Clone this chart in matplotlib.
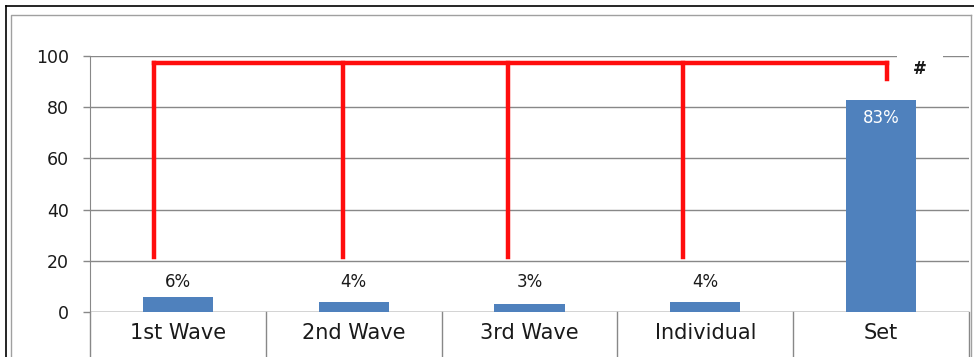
import matplotlib
matplotlib.use("Agg")
import matplotlib.pyplot as plt
from matplotlib.lines import Line2D
import matplotlib.transforms as mtransforms

categories = ["1st Wave", "2nd Wave", "3rd Wave", "Individual", "Set"]
percent = [6, 4, 3, 4, 83]
value_labels = ["6%", "4%", "3%", "4%", "83%"]

# significance bracket (x in category units, y in %)
bracket_x = [-0.136, 0.939, 1.878, 2.873]
bracket_end_x = 4.034
bracket_top = 97.3
bracket_low = 21.5
bracket_end_low = 91
sig_mark = "#"

W, H = 974, 357
fig = plt.figure(figsize=(W / 100, H / 100), dpi=100)
fig.patch.set_facecolor("white")

def fx(px):
    return px / W

def fy(py):
    return 1 - py / H

# frame borders
fig.add_artist(Line2D([fx(6), fx(974)], [fy(6), fy(6)], color="black", lw=1.2))
fig.add_artist(Line2D([fx(6), fx(6)], [fy(6), fy(360)], color="black", lw=1.2))
fig.add_artist(Line2D([fx(11), fx(971), fx(971)], [fy(360), fy(360), fy(15)],
                      color="#a0a0a0", lw=1.0))
fig.add_artist(Line2D([fx(11), fx(11), fx(971)], [fy(360), fy(15), fy(15)],
                      color="#a0a0a0", lw=1.0))

ax = fig.add_axes([fx(90), fy(312), fx(969) - fx(90), fy(56) - fy(312)])
grid_col = "#888888"

x = list(range(len(categories)))
ax.bar(x, percent, width=0.4, color="#4f81bd", zorder=2)

ax.set_xlim(-0.5, len(categories) - 0.5)
ax.set_ylim(0, 100)
ax.set_yticks([0, 20, 40, 60, 80, 100])
ax.yaxis.grid(True, color=grid_col, lw=1.0, zorder=0)
ax.set_axisbelow(True)
ax.tick_params(axis="y", length=5, width=1, color=grid_col, labelsize=12.5,
               pad=10, labelcolor="#1a1a1a")
ax.set_xticks([])
for s in ["top", "right", "bottom"]:
    ax.spines[s].set_visible(False)
ax.spines["left"].set_color(grid_col)
ax.axhline(0, color=grid_col, lw=1.0, zorder=1)

# category separators extending below the axis
trans = mtransforms.blended_transform_factory(ax.transData, ax.transAxes)
for b in [i - 0.5 for i in range(len(categories) + 1)]:
    ax.add_line(Line2D([b, b], [0, -0.3], transform=trans, color=grid_col,
                       lw=1.0, clip_on=False))
for i, c in enumerate(categories):
    ax.text(i, -0.083, c, transform=trans, ha="center", va="center",
            fontsize=15, color="#1a1a1a")

# value labels
for i, (v, lab) in enumerate(zip(percent, value_labels)):
    if v > 50:
        ax.text(i, 75.8, lab, ha="center", va="center", fontsize=12, color="white", zorder=3)
    else:
        ax.text(i, 11.7, lab, ha="center", va="center", fontsize=12, color="#1a1a1a", zorder=3)

# red bracket
red = "#ff0d0d"
ax.plot([bracket_x[0], bracket_end_x], [bracket_top, bracket_top], color=red, lw=3.2,
        solid_joinstyle="miter", zorder=4, clip_on=False)
for bx in bracket_x:
    ax.plot([bx, bx], [bracket_low, bracket_top], color=red, lw=3.2, zorder=4)
ax.plot([bracket_end_x, bracket_end_x], [bracket_end_low, bracket_top], color=red, lw=3.2, zorder=4)
ax.text(4.221, 94.9, sig_mark, ha="center", va="center", fontsize=12,
        fontweight="bold", color="#1a1a1a", zorder=5,
        bbox=dict(boxstyle="square,pad=0.95", fc="white", ec="none"))

fig.savefig("out.png", dpi=100)
